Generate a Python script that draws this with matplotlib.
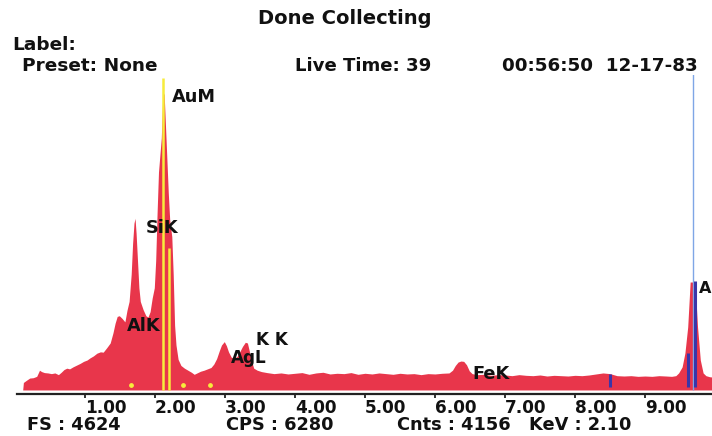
import matplotlib
matplotlib.use('Agg')
import matplotlib.pyplot as plt

# spectrum, energy in keV and counts
energy = [0.11, 0.12, 0.16, 0.21, 0.26, 0.31, 0.35, 0.38, 0.42, 0.47, 0.52, 0.57, 0.62, 0.66,
          0.70, 0.74, 0.78, 0.83, 0.88, 0.93, 0.98, 1.03, 1.07, 1.12, 1.17, 1.22, 1.26, 1.31,
          1.36, 1.40, 1.43, 1.46, 1.49, 1.53, 1.57, 1.60, 1.63, 1.66, 1.68, 1.70, 1.715, 1.73,
          1.75, 1.77, 1.79, 1.83, 1.87, 1.90, 1.93, 1.96, 1.99, 2.01, 2.03, 2.05, 2.07, 2.09,
          2.11, 2.13, 2.16, 2.19, 2.21, 2.24, 2.26, 2.28, 2.30, 2.33, 2.37, 2.42, 2.47, 2.52,
          2.56, 2.60, 2.65, 2.70, 2.75, 2.80, 2.84, 2.88, 2.92, 2.95, 2.99, 3.02, 3.05, 3.09,
          3.13, 3.17, 3.21, 3.25, 3.29, 3.32, 3.35, 3.38, 3.41, 3.46, 3.52, 3.60, 3.70, 3.80,
          3.90, 4.00, 4.10, 4.20, 4.30, 4.40, 4.50, 4.60, 4.70, 4.80, 4.90, 5.00, 5.10, 5.20,
          5.30, 5.40, 5.50, 5.60, 5.70, 5.80, 5.90, 6.00, 6.10, 6.20, 6.25, 6.29, 6.33, 6.37,
          6.41, 6.45, 6.49, 6.53, 6.60, 6.70, 6.80, 6.90, 7.00, 7.10, 7.20, 7.30, 7.40, 7.50,
          7.60, 7.70, 7.80, 7.90, 8.00, 8.10, 8.20, 8.30, 8.40, 8.50, 8.60, 8.70, 8.80, 8.90,
          9.00, 9.10, 9.20, 9.30, 9.38, 9.44, 9.48, 9.53, 9.57, 9.61, 9.63, 9.645, 9.71, 9.73,
          9.75, 9.79, 9.83, 9.87, 9.92, 9.96]
counts = [0, 110, 140, 175, 180, 200, 290, 270, 255, 250, 240, 250, 225, 260,
          300, 320, 310, 340, 365, 390, 420, 440, 470, 500, 540, 560, 555, 620,
          690, 840, 980, 1080, 1090, 1050, 1000, 1170, 1300, 1700, 2150, 2450, 2520, 2300,
          1900, 1500, 1300, 1180, 1090, 1070, 1150, 1350, 1500, 1900, 2600, 3200, 3450, 3700,
          4300, 4360, 3630, 2890, 2500, 2250, 1700, 950, 660, 450, 360, 320, 290, 260,
          230, 250, 275, 290, 310, 330, 380, 460, 580, 660, 710, 650, 560, 480,
          470, 490, 560, 640, 700, 690, 560, 420, 320, 290, 270, 255, 240, 250,
          235, 245, 255, 230, 250, 260, 235, 245, 240, 255, 230, 245, 235, 250,
          240, 230, 245, 235, 240, 225, 240, 235, 245, 250, 290, 360, 410, 425,
          420, 370, 280, 240, 225, 230, 215, 225, 220, 210, 225, 215, 210, 220,
          205, 215, 210, 205, 215, 210, 220, 235, 250, 240, 210, 205, 210, 200,
          205, 200, 210, 205, 200, 210, 250, 338, 543, 925, 1300, 1585, 1585, 1300,
          930, 440, 250, 210, 195, 190]

# marker lines (KLM)
yellow_e = [2.11, 2.20]
yellow_h = [4580, 2085]
dot_e = [1.66, 2.40, 2.79]
dot_h = 73
blue_bar_e = [8.50, 9.61, 9.71]
blue_bar_h = [240, 540, 1600]
cursor_e = 9.69

peak_names = ['AuM', 'SiK', 'AlK', 'AgL', 'K K', 'FeK', 'A']
peak_e = [2.24, 1.87, 1.60, 3.09, 3.44, 6.54, 9.77]
peak_c = [4300, 2378, 940, 470, 740, 235, 1483]
peak_size = [12.8, 12.8, 12.8, 12.2, 12.2, 12.8, 11.5]

tick_vals = [1, 2, 3, 4, 5, 6, 7, 8, 9]
tick_text = ['1.00', '2.00', '3.00', '4.00', '5.00', '6.00', '7.00', '8.00', '9.00']

W, H = 712, 436
fig = plt.figure(figsize=(W / 100, H / 100), dpi=100)
ax = fig.add_axes([17 / W, (H - 394) / H, 695 / W, 319 / H])

ax.fill_between(energy, counts, 0, color='#e8364b', lw=0)
ax.vlines(yellow_e, 0, yellow_h, color='#f7ec3c', lw=1.8)
ax.scatter(dot_e, [dot_h] * len(dot_e), s=6, color='#f7ec3c', zorder=3)
ax.vlines(cursor_e, 0, 4700, color='#7fa6e6', lw=1.0)
ax.vlines(blue_bar_e, 44, blue_bar_h, color='#3b35a8', lw=2.2)

for name, e, c, sz in zip(peak_names, peak_e, peak_c, peak_size):
    ax.text(e, c, name, fontsize=sz, fontweight='bold', ha='left', va='center', color='#111')

ax.set_xlim(0.0286, 9.957)
ax.set_ylim(-59, 4624)
for s in ['top', 'left', 'right']:
    ax.spines[s].set_visible(False)
ax.spines['bottom'].set_linewidth(1.6)
ax.spines['bottom'].set_color('#222')
ax.set_yticks([])
ax.set_xticks(tick_vals)
ax.set_xticklabels(tick_text, fontsize=12.2, fontweight='bold', ha='left')
ax.tick_params(axis='x', direction='out', length=3, width=1.2, pad=0.8, colors='#111')
ax.patch.set_alpha(0)


def put(x, y, s, size=13.3, ha='left'):
    fig.text(x / W, 1 - y / H, s, fontsize=size, fontweight='bold', ha=ha, va='center', color='#111')


put(345, 18, 'Done Collecting', size=14, ha='center')
put(12, 45, 'Label:')
put(22, 66, 'Preset: None')
put(295, 66, 'Live Time: 39', size=13.1)
put(502, 66, '00:56:50  12-17-83', size=13.2)
put(27, 425, 'FS : 4624', size=12.8)
put(226, 425, 'CPS : 6280', size=12.8)
put(397, 425, 'Cnts : 4156   KeV : 2.10', size=12.8)

fig.savefig('out.png', dpi=100)
